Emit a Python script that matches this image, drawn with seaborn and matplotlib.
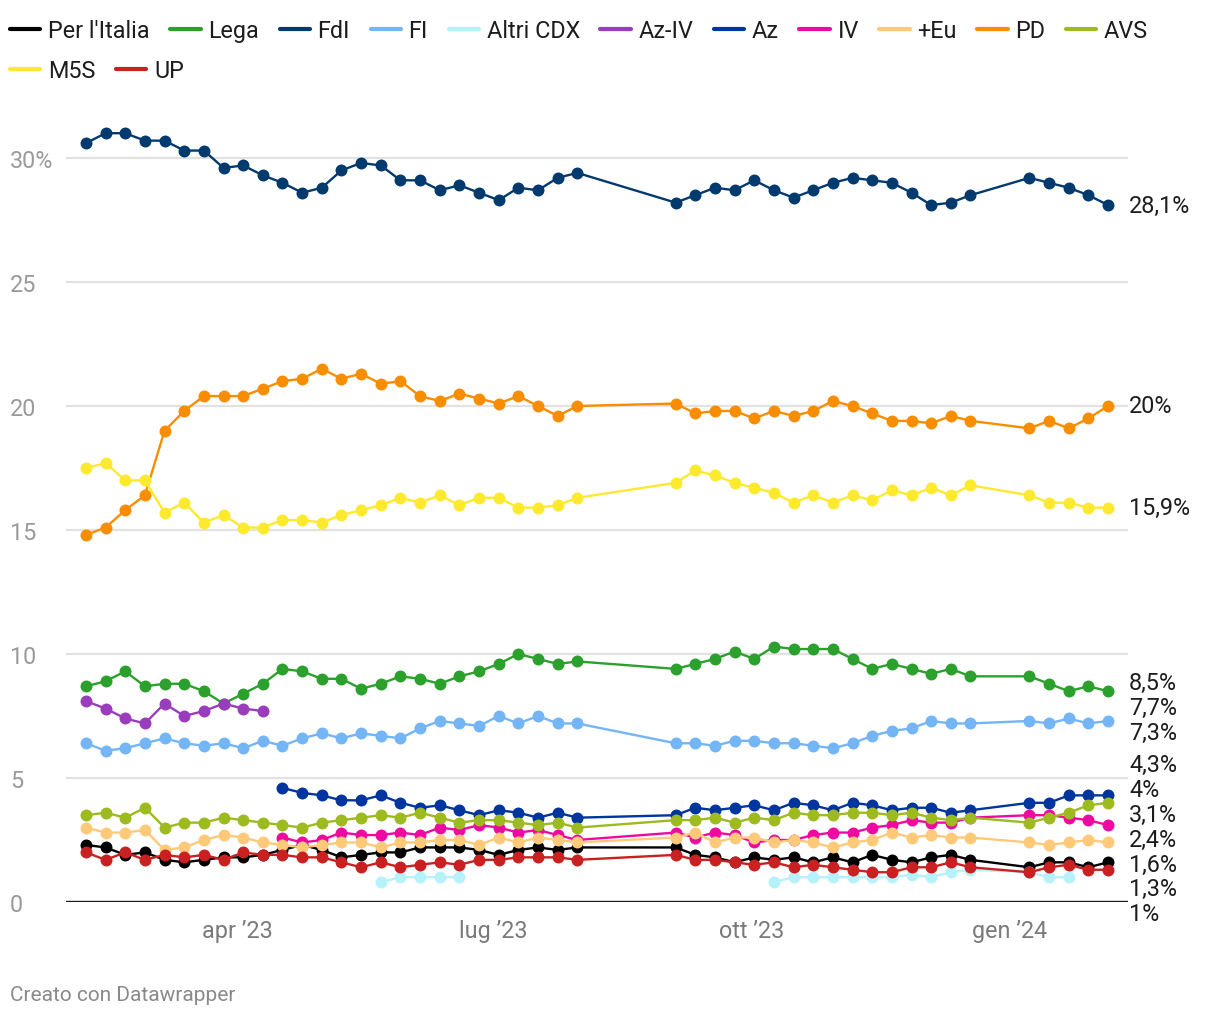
import numpy as np
import pandas as pd
import matplotlib
matplotlib.use("Agg")
import matplotlib.pyplot as plt
import matplotlib.transforms as mtransforms
from matplotlib.lines import Line2D
import seaborn as sns

nan = np.nan

# ---------------- data ----------------
dates = [
    "2023-02-06", "2023-02-13", "2023-02-20", "2023-02-27", "2023-03-06", "2023-03-13",
    "2023-03-20", "2023-03-27", "2023-04-03", "2023-04-10", "2023-04-17", "2023-04-24",
    "2023-05-01", "2023-05-08", "2023-05-15", "2023-05-22", "2023-05-29", "2023-06-05",
    "2023-06-12", "2023-06-19", "2023-06-26", "2023-07-03", "2023-07-10", "2023-07-17",
    "2023-07-24", "2023-07-31",
    "2023-09-04", "2023-09-11", "2023-09-18", "2023-09-25", "2023-10-02", "2023-10-09",
    "2023-10-16", "2023-10-23", "2023-10-30", "2023-11-06", "2023-11-13", "2023-11-20",
    "2023-11-27", "2023-12-04", "2023-12-11", "2023-12-18",
    "2024-01-08", "2024-01-15", "2024-01-22", "2024-01-29", "2024-02-05",
]

parties = ["Per l'Italia", "Lega", "FdI", "FI", "Altri CDX", "Az-IV", "Az", "IV",
           "+Eu", "PD", "AVS", "M5S", "UP"]
colors = ["#000000", "#2ca02c", "#023a6e", "#74b5f5", "#b5f2fb", "#9a3dbc", "#00349e",
          "#ee0aa0", "#ffc97a", "#f88d00", "#9dba1f", "#fde92e", "#c92121"]

per_italia = [2.3, 2.2, 1.9, 2.0, 1.7, 1.6, 1.7, 1.8, 1.8, 1.9, 2.1, 2.3, 2.1, 1.8, 1.9, 2.0,
              2.0, 2.2, 2.2, 2.2, 2.1, 1.9, 2.1, 2.2, 2.1, 2.2,
              2.2, 1.9, 1.8, 1.6, 1.8, 1.7, 1.8, 1.6, 1.8, 1.6, 1.9, 1.7, 1.6, 1.8, 1.9, 1.7,
              1.4, 1.6, 1.6, 1.4, 1.6]
lega = [8.7, 8.9, 9.3, 8.7, 8.8, 8.8, 8.5, 8.0, 8.4, 8.8, 9.4, 9.3, 9.0, 9.0, 8.6, 8.8,
        9.1, 9.0, 8.8, 9.1, 9.3, 9.6, 10.0, 9.8, 9.6, 9.7,
        9.4, 9.6, 9.8, 10.1, 9.8, 10.3, 10.2, 10.2, 10.2, 9.8, 9.4, 9.6, 9.4, 9.2, 9.4, 9.1,
        9.1, 8.8, 8.5, 8.7, 8.5]
fdi = [30.6, 31.0, 31.0, 30.7, 30.7, 30.3, 30.3, 29.6, 29.7, 29.3, 29.0, 28.6, 28.8, 29.5,
       29.8, 29.7, 29.1, 29.1, 28.7, 28.9, 28.6, 28.3, 28.8, 28.7, 29.2, 29.4,
       28.2, 28.5, 28.8, 28.7, 29.1, 28.7, 28.4, 28.7, 29.0, 29.2, 29.1, 29.0, 28.6, 28.1,
       28.2, 28.5,
       29.2, 29.0, 28.8, 28.5, 28.1]
fi = [6.4, 6.1, 6.2, 6.4, 6.6, 6.4, 6.3, 6.4, 6.2, 6.5, 6.3, 6.6, 6.8, 6.6, 6.8, 6.7,
      6.6, 7.0, 7.3, 7.2, 7.1, 7.5, 7.2, 7.5, 7.2, 7.2,
      6.4, 6.4, 6.3, 6.5, 6.5, 6.4, 6.4, 6.3, 6.2, 6.4, 6.7, 6.9, 7.0, 7.3, 7.2, 7.2,
      7.3, 7.2, 7.4, 7.2, 7.3]
altri_cdx = [nan, nan, nan, nan, nan, nan, nan, nan, nan, nan, nan, nan, nan, nan, nan, 0.8,
             1.0, 1.0, 1.0, 1.0, nan, nan, nan, nan, nan, nan,
             nan, nan, nan, nan, nan, 0.8, 1.0, 1.0, 1.0, 1.0, 1.0, 1.0, 1.1, 1.0, 1.2, 1.3,
             1.2, 1.0, 1.0, nan, nan]
az_iv = [8.1, 7.8, 7.4, 7.2, 8.0, 7.5, 7.7, 8.0, 7.8, 7.7, nan, nan, nan, nan, nan, nan,
         nan, nan, nan, nan, nan, nan, nan, nan, nan, nan,
         nan, nan, nan, nan, nan, nan, nan, nan, nan, nan, nan, nan, nan, nan, nan, nan,
         nan, nan, nan, nan, nan]
az = [nan, nan, nan, nan, nan, nan, nan, nan, nan, nan, 4.6, 4.4, 4.3, 4.1, 4.1, 4.3,
      4.0, 3.8, 3.9, 3.7, 3.5, 3.7, 3.6, 3.4, 3.6, 3.4,
      3.5, 3.8, 3.7, 3.8, 3.9, 3.7, 4.0, 3.9, 3.7, 4.0, 3.9, 3.7, 3.8, 3.8, 3.6, 3.7,
      4.0, 4.0, 4.3, 4.3, 4.3]
iv = [nan, nan, nan, nan, nan, nan, nan, nan, nan, nan, 2.6, 2.4, 2.5, 2.8, 2.7, 2.7,
      2.8, 2.7, 3.0, 2.9, 3.1, 3.0, 2.8, 2.9, 2.7, 2.5,
      2.8, 2.6, 2.8, 2.7, 2.4, 2.5, 2.5, 2.7, 2.8, 2.8, 3.0, 3.1, 3.3, 3.2, 3.2, 3.4,
      3.5, 3.5, 3.4, 3.3, 3.1]
piu_eu = [3.0, 2.8, 2.8, 2.9, 2.1, 2.2, 2.5, 2.7, 2.6, 2.4, 2.3, 2.2, 2.3, 2.4, 2.4, 2.2,
          2.4, 2.4, 2.5, 2.5, 2.3, 2.6, 2.4, 2.6, 2.5, 2.4,
          2.6, 2.8, 2.4, 2.6, 2.6, 2.4, 2.5, 2.4, 2.2, 2.4, 2.5, 2.8, 2.6, 2.7, 2.6, 2.6,
          2.4, 2.3, 2.4, 2.5, 2.4]
pd_vals = [14.8, 15.1, 15.8, 16.4, 19.0, 19.8, 20.4, 20.4, 20.4, 20.7, 21.0, 21.1, 21.5,
           21.1, 21.3, 20.9, 21.0, 20.4, 20.2, 20.5, 20.3, 20.1, 20.4, 20.0, 19.6, 20.0,
           20.1, 19.7, 19.8, 19.8, 19.5, 19.8, 19.6, 19.8, 20.2, 20.0, 19.7, 19.4, 19.4,
           19.3, 19.6, 19.4,
           19.1, 19.4, 19.1, 19.5, 20.0]
avs = [3.5, 3.6, 3.4, 3.8, 3.0, 3.2, 3.2, 3.4, 3.3, 3.2, 3.1, 3.0, 3.2, 3.3, 3.4, 3.5,
       3.4, 3.6, 3.4, 3.2, 3.3, 3.3, 3.2, 3.1, 3.2, 3.0,
       3.3, 3.3, 3.4, 3.2, 3.4, 3.3, 3.6, 3.5, 3.5, 3.6, 3.6, 3.5, 3.6, 3.4, 3.3, 3.4,
       3.2, 3.4, 3.6, 3.9, 4.0]
m5s = [17.5, 17.7, 17.0, 17.0, 15.7, 16.1, 15.3, 15.6, 15.1, 15.1, 15.4, 15.4, 15.3, 15.6,
       15.8, 16.0, 16.3, 16.1, 16.4, 16.0, 16.3, 16.3, 15.9, 15.9, 16.0, 16.3,
       16.9, 17.4, 17.2, 16.9, 16.7, 16.5, 16.1, 16.4, 16.1, 16.4, 16.2, 16.6, 16.4, 16.7,
       16.4, 16.8,
       16.4, 16.1, 16.1, 15.9, 15.9]
up = [2.0, 1.7, 2.0, 1.7, 1.9, 1.8, 1.9, 1.7, 2.0, 1.9, 1.9, 1.8, 1.8, 1.6, 1.4, 1.6,
      1.4, 1.5, 1.6, 1.5, 1.7, 1.7, 1.8, 1.8, 1.8, 1.7,
      1.9, 1.7, 1.7, 1.6, 1.5, 1.6, 1.4, 1.5, 1.4, 1.3, 1.2, 1.2, 1.4, 1.4, 1.6, 1.4,
      1.2, 1.4, 1.5, 1.3, 1.3]

series = [per_italia, lega, fdi, fi, altri_cdx, az_iv, az, iv, piu_eu, pd_vals, avs, m5s, up]

x_ticks = ["2023-04-01", "2023-07-01", "2023-10-01", "2024-01-01"]
x_tick_labels = ["apr \u201923", "lug \u201923", "ott \u201923", "gen \u201924"]
y_ticks = [0, 5, 10, 15, 20, 25, 30]
y_tick_labels = ["0", "5", "10", "15", "20", "25", "30%"]

# ---------------- long-form table (break lines where a value is missing) ----------------
rows = []
for p, vals in zip(parties, series):
    seg, prev = 0, False
    for d, v in zip(dates, vals):
        if np.isnan(v):
            prev = False
            continue
        if not prev:
            seg += 1
        prev = True
        rows.append((d, p, f"{p}_{seg}", v))
df = pd.DataFrame(rows, columns=["date", "party", "seg", "value"])
df["date"] = pd.to_datetime(df["date"])

# ---------------- style ----------------
sns.set_theme(style="white")
plt.rcParams["font.family"] = ["Roboto", "DejaVu Sans"]
TXT = "#1d1d1d"
FS = 16.8

W, H = 1220, 1020
fig = plt.figure(figsize=(W / 100, H / 100), dpi=100)
ax_left, ax_right, y0_px, px_per_unit = 66, 1128, 903, 24.8
ytop = 31.5
ax = fig.add_axes([ax_left / W, (H - y0_px) / H, (ax_right - ax_left) / W,
                   ytop * px_per_unit / H])

palette = dict(zip(parties, colors))
sns.lineplot(data=df, x="date", y="value", hue="party", units="seg", estimator=None,
             hue_order=parties, palette=palette, marker="o", markersize=8.6,
             markeredgewidth=0, linewidth=1.7, legend=False, ax=ax, sort=True)

d0 = pd.to_datetime(dates[0])
d1 = pd.to_datetime(dates[-1])
pad_days = pd.Timedelta(days=7.1)
ax.set_xlim(d0 - pad_days, d1 + pad_days)
ax.set_ylim(0, ytop)

for s in ax.spines.values():
    s.set_visible(False)

ax.set_yticks(y_ticks)
ax.set_yticklabels(y_tick_labels, color="#9a9a9a", fontsize=FS)
for lab in ax.get_yticklabels():
    lab.set_horizontalalignment("left")
ax.tick_params(axis="y", length=0, pad=(ax_left - 10) / 100 * 72)
ax.yaxis.grid(True, color="#e2e2e2", linewidth=1.6)
ax.xaxis.grid(False)
ax.axhline(0, color="#1a1a1a", linewidth=2.4, zorder=1)

ax.set_xticks(pd.to_datetime(x_ticks))
ax.set_xticklabels(x_tick_labels, color="#7a7a7a", fontsize=FS)
ax.tick_params(axis="x", length=0, pad=12.5)
ax.set_xlabel("")
ax.set_ylabel("")

# ---------------- end-value labels with simple collision avoidance ----------------
last_vals = {}
for p, vals in zip(parties, series):
    v = [x for x in vals if not np.isnan(x)]
    last_vals[p] = v[-1]
order = sorted(parties, key=lambda p: -last_vals[p])
pos = [last_vals[p] for p in order]
gap = 1.0
for _ in range(600):
    for i in range(len(pos) - 1):
        d = pos[i] - pos[i + 1]
        if d < gap:
            shift = (gap - d) / 2
            pos[i] += shift
            pos[i + 1] -= shift
trans = mtransforms.blended_transform_factory(ax.transAxes, ax.transData)
for p, yp in zip(order, pos):
    v = last_vals[p]
    s = f"{v:.1f}".replace(".", ",")
    if s.endswith(",0"):
        s = s[:-2]
    ax.text(1.0 + 1 / (ax_right - ax_left), yp, s + "%", transform=trans, ha="left",
            va="center", fontsize=FS, color=TXT, clip_on=False)

# ---------------- legend ----------------
handles = [Line2D([], [], color=c, lw=3) for c in colors]
leg_kw = dict(loc="upper left", frameon=False, fontsize=FS, handlelength=1.3,
              handletextpad=0.33, columnspacing=0.88, borderpad=0, borderaxespad=0,
              labelcolor=TXT)
leg1 = fig.legend(handles[:11], parties[:11], ncol=11,
                  bbox_to_anchor=(10 / W, 1 - 20 / H), **leg_kw)
leg2 = fig.legend(handles[11:], parties[11:], ncol=2,
                  bbox_to_anchor=(10 / W, 1 - 60 / H), **leg_kw)

fig.text(10 / W, 1 - 996 / H, "Creato con Datawrapper", fontsize=15, color="#8a8a8a",
         ha="left", va="center")

fig.savefig("out.png", dpi=100, facecolor="white")
